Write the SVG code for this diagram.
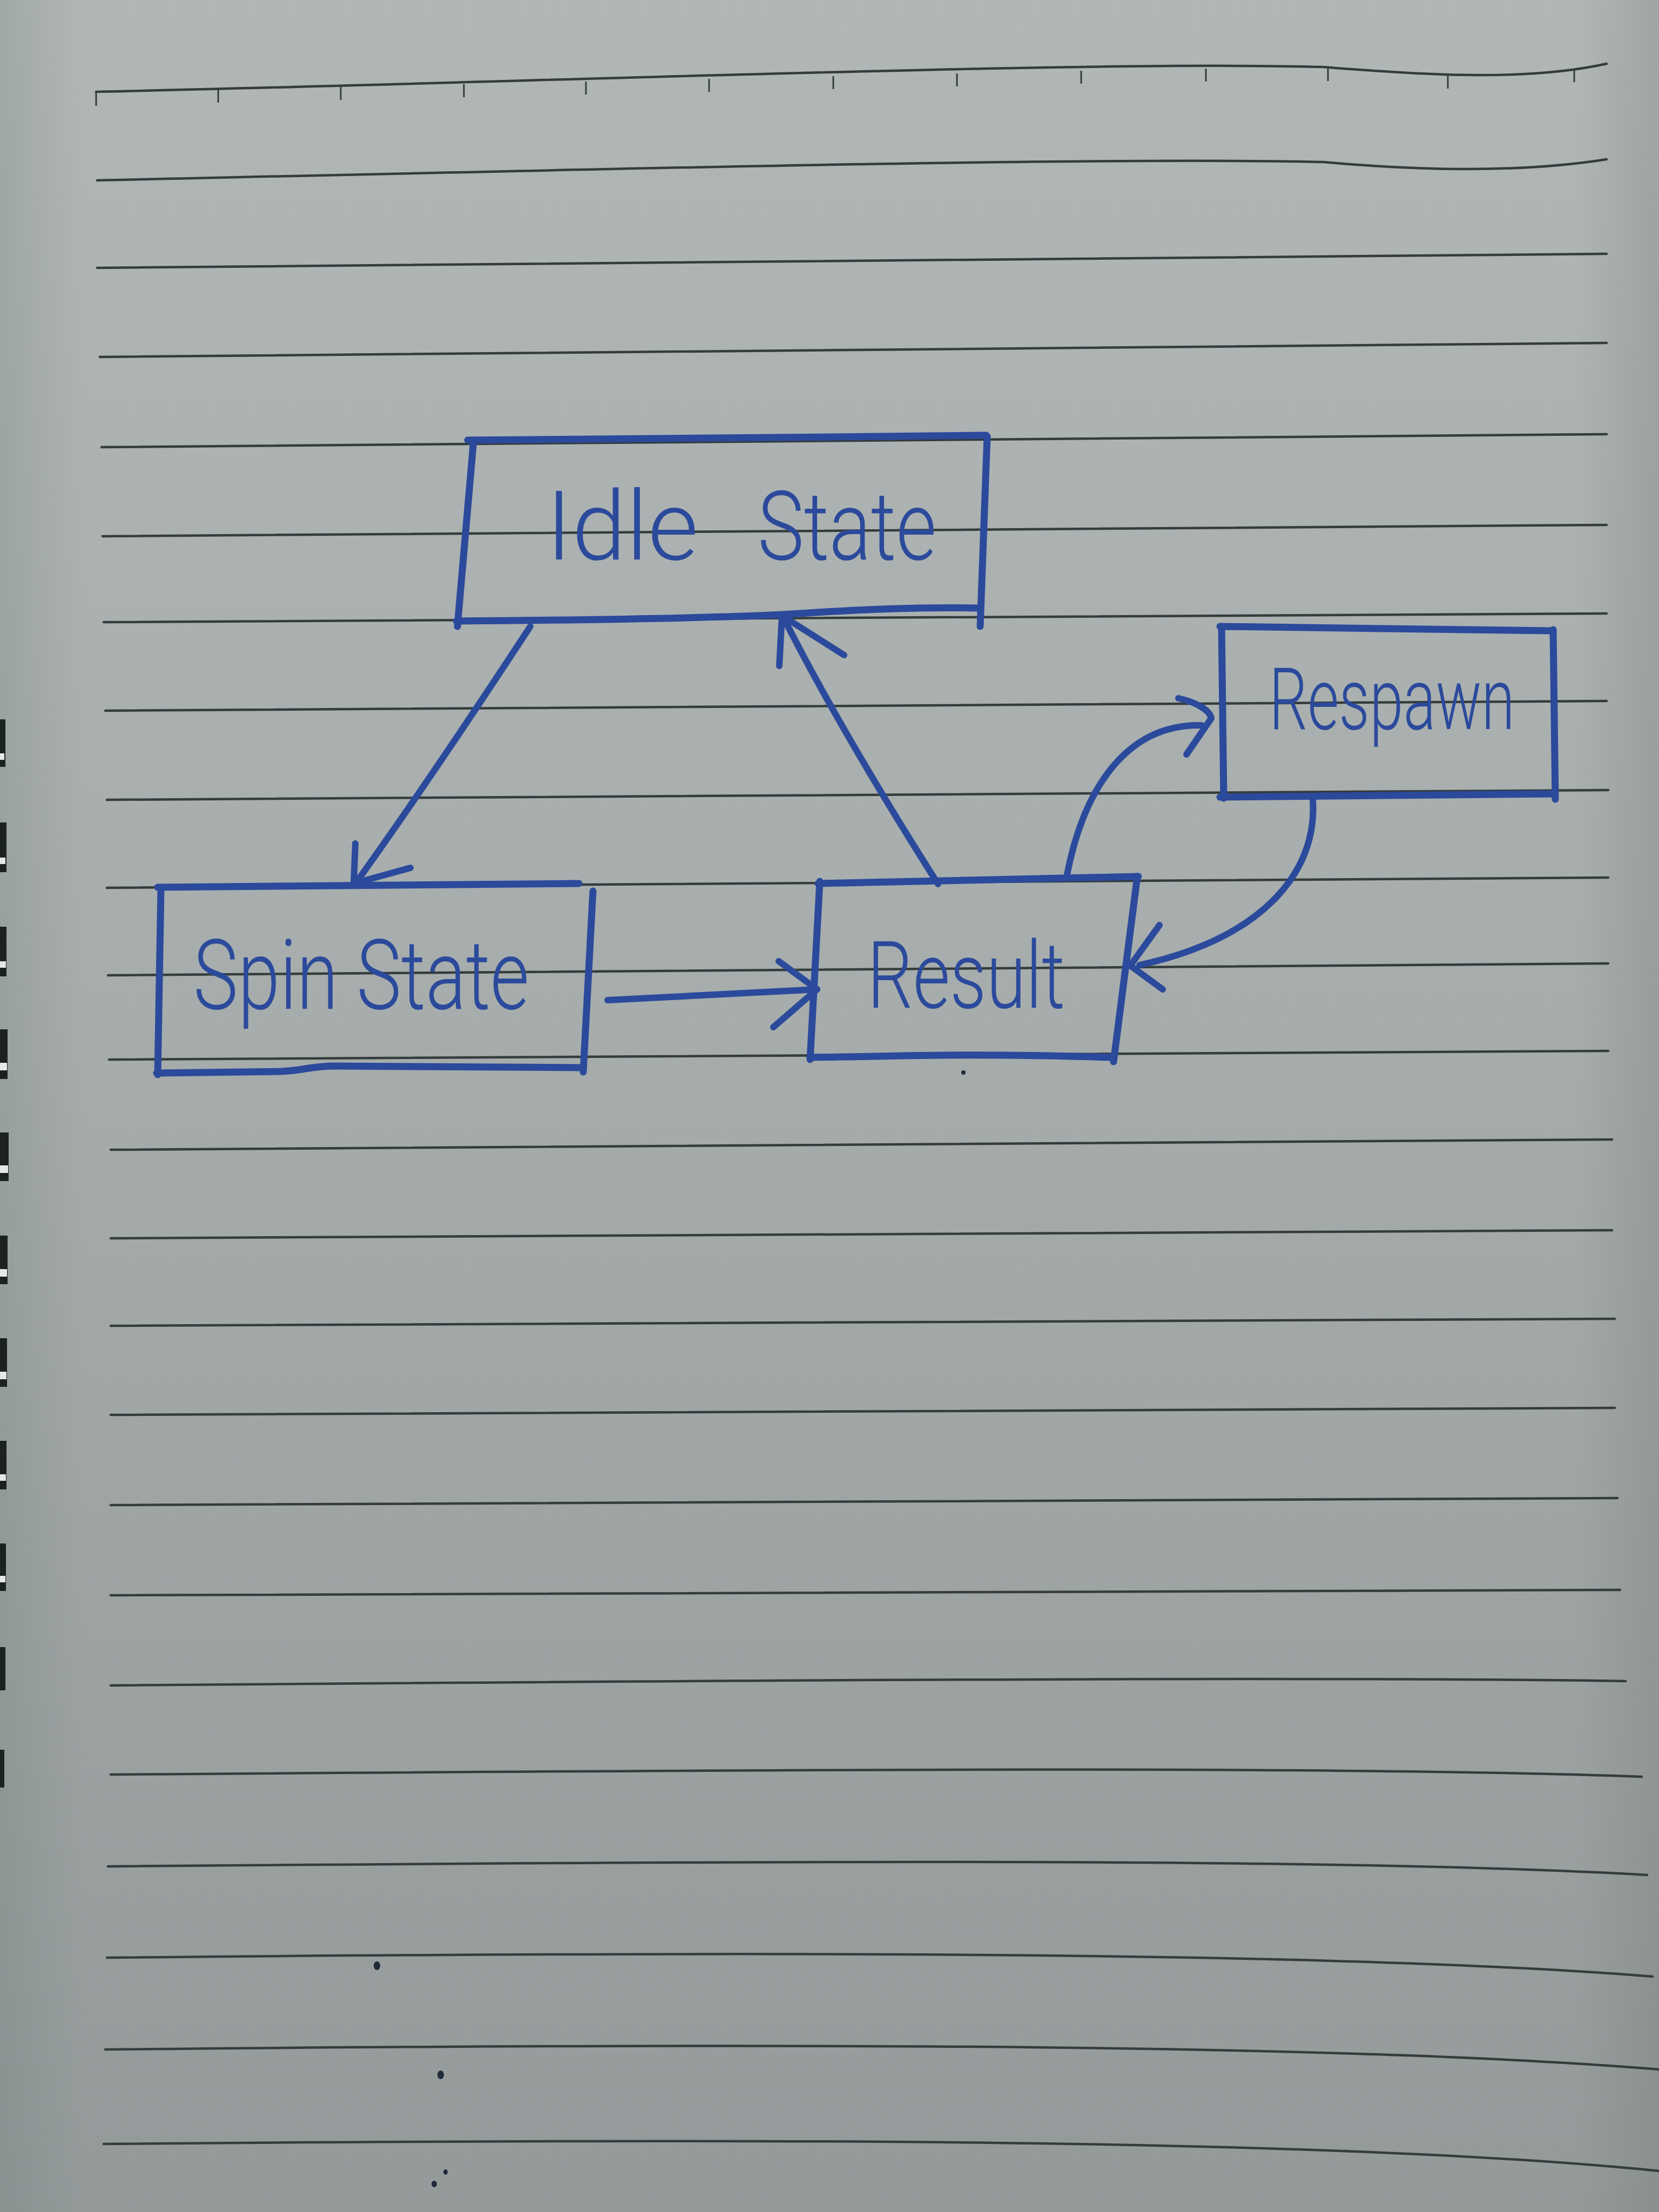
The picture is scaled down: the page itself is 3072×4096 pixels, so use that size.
<svg xmlns="http://www.w3.org/2000/svg" width="3072" height="4096" viewBox="0 0 3072 4096">
<defs>
<linearGradient id="paperV" x1="0" y1="0" x2="0" y2="1">
<stop offset="0" stop-color="#b1b7b6"/>
<stop offset="0.45" stop-color="#a7adac"/>
<stop offset="1" stop-color="#949a9a"/>
</linearGradient>
<linearGradient id="paperH" x1="0" y1="0" x2="1" y2="0">
<stop offset="0" stop-color="#5f6e6c" stop-opacity="0.2"/>
<stop offset="0.05" stop-color="#5f6e6c" stop-opacity="0"/>
<stop offset="0.95" stop-color="#6a6e6e" stop-opacity="0"/>
<stop offset="1" stop-color="#6a6e6e" stop-opacity="0.25"/>
</linearGradient>
<style>
.rule{fill:none;stroke:#343c3c;stroke-width:4.5;stroke-linecap:round}
.tick{fill:none;stroke:#343c3c;stroke-width:3}
.ink{fill:none;stroke:#2b4a9c;stroke-width:12;stroke-linecap:round;stroke-linejoin:round}
.box{fill:none;stroke:#2b4a9c;stroke-width:13;stroke-linecap:round;stroke-linejoin:round}
.lbl{fill:#2b4a9c;font-family:Roboto,"Liberation Sans","DejaVu Sans",sans-serif;font-weight:300}
.spot{fill:#1f2a3a}
.bind{fill:#1c2222}
.bindw{fill:#e6e8e8}
</style>
</defs>

<g id="paper">
<rect x="0" y="0" width="3072" height="4096" fill="url(#paperV)"/>
<rect x="0" y="0" width="3072" height="4096" fill="url(#paperH)"/>
</g>

<g id="ruling">
<path class="rule" d="M178,170 C1000,152 2000,112 2450,124 C2650,140 2830,150 2975,118"/>
<path class="rule" d="M180,334 C1000,316 2000,290 2450,300 C2650,318 2830,318 2975,295"/>
<path class="rule" d="M180,496 L2975,470"/>
<path class="rule" d="M185,661 L2975,635"/>
<path class="rule" d="M188,828 L2975,804"/>
<path class="rule" d="M190,993 L2975,972"/>
<path class="rule" d="M192,1152 L2975,1136"/>
<path class="rule" d="M195,1316 L2975,1298"/>
<path class="rule" d="M198,1481 L2978,1463"/>
<path class="rule" d="M198,1644 L2978,1625"/>
<path class="rule" d="M200,1806 L2978,1784"/>
<path class="rule" d="M202,1962 L2978,1946"/>
<path class="rule" d="M205,2129 L2985,2110"/>
<path class="rule" d="M205,2293 L2985,2278"/>
<path class="rule" d="M205,2455 L2990,2442"/>
<path class="rule" d="M205,2620 L2990,2607"/>
<path class="rule" d="M205,2787 L2995,2774"/>
<path class="rule" d="M205,2954 L3000,2944"/>
<path class="rule" d="M205,3121 C1500,3110 2500,3105 3010,3113"/>
<path class="rule" d="M205,3286 C1500,3276 2500,3270 3040,3290"/>
<path class="rule" d="M200,3456 C1500,3445 2500,3440 3050,3472"/>
<path class="rule" d="M198,3625 C1500,3612 2500,3615 3060,3660"/>
<path class="rule" d="M195,3795 C1500,3782 2500,3785 3072,3832"/>
<path class="rule" d="M192,3970 C1500,3958 2500,3962 3072,4020"/>
<path class="tick" d="M178,170 v26 M404,166 v24 M631,161 v24 M859,156 v24 M1085,151 v24 M1313,146 v24 M1543,141 v24 M1772,136 v24 M2002,131 v24 M2233,127 v24 M2459,126 v24 M2681,140 v24 M2915,128 v24"/>
</g>

<g id="binding">
<rect class="bind" x="0" y="1332" width="10" height="88"/><rect class="bindw" x="0" y="1395" width="8" height="12"/>
<rect class="bind" x="0" y="1523" width="12" height="92"/><rect class="bindw" x="0" y="1588" width="10" height="12"/>
<rect class="bind" x="0" y="1716" width="12" height="92"/><rect class="bindw" x="0" y="1780" width="11" height="12"/>
<rect class="bind" x="0" y="1906" width="14" height="92"/><rect class="bindw" x="0" y="1968" width="13" height="14"/>
<rect class="bind" x="0" y="2097" width="16" height="90"/><rect class="bindw" x="0" y="2158" width="15" height="14"/>
<rect class="bind" x="0" y="2288" width="14" height="90"/><rect class="bindw" x="0" y="2350" width="13" height="14"/>
<rect class="bind" x="0" y="2478" width="13" height="90"/><rect class="bindw" x="0" y="2540" width="12" height="14"/>
<rect class="bind" x="0" y="2668" width="12" height="90"/><rect class="bindw" x="0" y="2730" width="11" height="12"/>
<rect class="bind" x="0" y="2858" width="11" height="88"/><rect class="bindw" x="0" y="2918" width="10" height="12"/>
<rect class="bind" x="0" y="3050" width="10" height="80"/>
<rect class="bind" x="0" y="3240" width="8" height="70"/>
</g>

<g id="node-idle">
<path class="box" d="M866,815 C1200,812 1500,810 1826,806"/>
<path class="box" d="M877,815 L847,1160"/>
<path class="box" d="M1828,808 L1815,1160"/>
<path class="box" d="M845,1150 C1100,1148 1300,1145 1449,1138 C1600,1128 1700,1124 1812,1126"/>
<text class="lbl" y="1036" font-size="178"><tspan x="1011" textLength="282" lengthAdjust="spacingAndGlyphs">Idle</tspan> <tspan x="1403" textLength="331" lengthAdjust="spacingAndGlyphs">State</tspan></text>
</g>

<g id="node-spin">
<path class="box" d="M292,1643 L1072,1636"/>
<path class="box" d="M298,1645 L292,1990"/>
<path class="box" d="M1098,1650 L1080,1985"/>
<path class="box" d="M290,1987 L520,1984 C565,1982 575,1974 620,1974 L1080,1977"/>
<text class="lbl" x="358" y="1868" font-size="180" textLength="622" lengthAdjust="spacingAndGlyphs">Spin State</text>
</g>

<g id="node-result">
<path class="box" d="M1515,1636 L2108,1623"/>
<path class="box" d="M1518,1632 L1500,1962"/>
<path class="box" d="M2106,1623 L2062,1966"/>
<path class="box" d="M1500,1958 C1700,1955 1800,1950 2062,1958"/>
<text class="lbl" x="1606" y="1866" font-size="172" textLength="366" lengthAdjust="spacingAndGlyphs">Result</text>
</g>

<g id="node-respawn">
<path class="box" d="M2259,1160 L2876,1168"/>
<path class="box" d="M2262,1160 L2266,1478"/>
<path class="box" d="M2876,1166 L2880,1480"/>
<path class="box" d="M2259,1476 L2878,1470"/>
<text class="lbl" x="2350" y="1350" font-size="160" textLength="455" lengthAdjust="spacingAndGlyphs">Respawn</text>
</g>

<g id="connectors">
<path class="ink" d="M982,1160 C900,1285 770,1480 664,1628"/>
<path class="ink" d="M658,1562 L655,1636 L760,1607"/>
<path class="ink" d="M1125,1852 L1513,1832"/>
<path class="ink" d="M1442,1780 L1513,1832 L1432,1902"/>
<path class="ink" d="M1737,1637 C1650,1500 1540,1320 1450,1142"/>
<path class="ink" d="M1443,1233 L1448,1140 L1563,1213"/>
<path class="ink" d="M1976,1619 C2005,1470 2080,1340 2225,1343"/>
<path class="ink" d="M2182,1293 C2215,1300 2240,1315 2243,1330 L2197,1397"/>
<path class="ink" d="M2431,1482 C2440,1620 2330,1740 2110,1787"/>
<path class="ink" d="M2147,1713 L2093,1788 L2153,1832"/>
</g>

<g id="specks">
<circle class="spot" cx="1784" cy="1986" r="4"/>
<ellipse class="spot" cx="698" cy="3640" rx="6" ry="8"/>
<ellipse class="spot" cx="816" cy="3842" rx="6" ry="8"/>
<ellipse class="spot" cx="804" cy="4044" rx="5" ry="6"/>
<ellipse class="spot" cx="825" cy="4022" rx="4" ry="5"/>
</g>
</svg>
